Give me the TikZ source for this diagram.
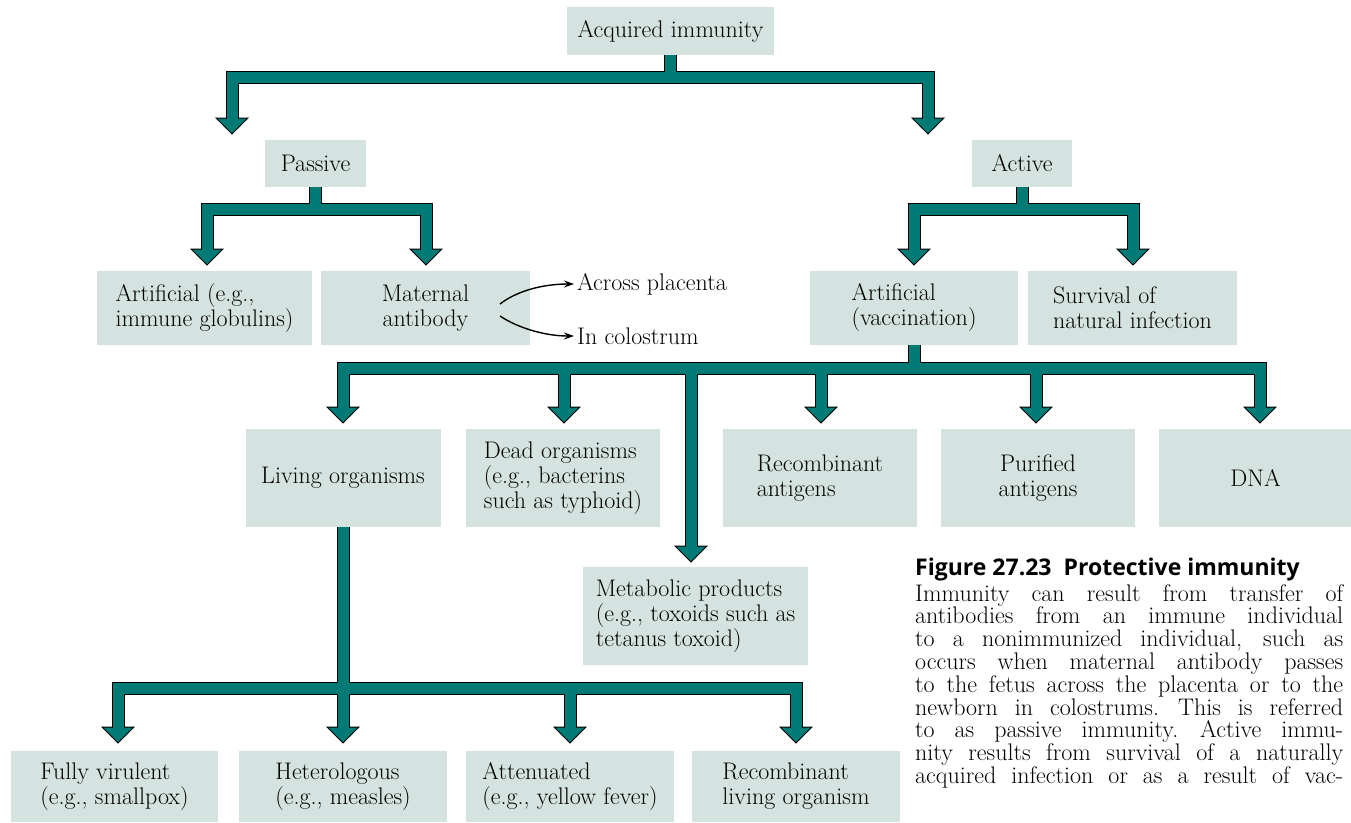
\documentclass[tikz,border=0pt]{standalone}
\usepackage{fontspec}
\newfontfamily\capsans{Open Sans}
\usetikzlibrary{arrows.meta}

\definecolor{boxfill}{RGB}{212,227,223}
\definecolor{shaft}{RGB}{0,122,116}

% one justified line of the legend
\newcommand{\jline}[1]{\hbox to 428pt{\spaceskip=7pt plus 40pt\xspaceskip=9pt plus 40pt #1}}

\begin{document}
\begin{tikzpicture}
        [x=1pt,y=-1pt,
         every node/.style={font=\fontsize{24}{25}\selectfont,inner sep=0pt},
         box/.style={fill=boxfill,align=left},
         bar/.style={draw=black,line width=1pt,double=shaft,double distance=11pt,line join=miter},
         sidearrow/.style={line width=1.4pt,-{Stealth[length=10pt,width=7pt]}},
         downhead/.pic={\filldraw[fill=shaft,draw=black,line width=1pt,line join=miter]
                        (-16,-1) -- (16,-1) -- (0,15) -- cycle;}]
        \useasboundingbox (0,0) rectangle (1351,822);

        % top of the tree
        \node[box,minimum width=207pt,minimum height=48pt] (acq) at (670.5,31) {Acquired immunity};
        \node[box,minimum width=101pt,minimum height=47pt] (pas) at (315.5,163.5) {Passive};
        \node[box,minimum width=100pt,minimum height=47pt] (act) at (1022,163.5) {Active};

        % second row
        \node[box,minimum width=215pt,minimum height=74pt] (artp) at (204.5,308) {Artificial (e.g.,\\immune globulins)};
        \node[box,align=center,minimum width=209pt,minimum height=74pt] (mat) at (425.5,308) {Maternal\\antibody};
        \node[box,minimum width=208pt,minimum height=74pt] (vac) at (914,308) {Artificial\\(vaccination)};
        \node[box,minimum width=209pt,minimum height=74pt] (surv) at (1132.5,308) {Survival of\\natural infection};

        \node[anchor=west,inner sep=3pt] (plac) at (574,284) {Across placenta};
        \node[anchor=west,inner sep=3pt] (colo) at (574,336) {In colostrum};
        \coordinate (m1) at (500,304);
        \coordinate (m2) at (500,316);
        \draw[sidearrow] (m1) .. controls (518,290) and (545,284) .. (plac.west);
        \draw[sidearrow] (m2) .. controls (518,328) and (545,336) .. (colo.west);

        % kinds of vaccine
        \node[box,align=center,minimum width=195pt,minimum height=98pt] (liv) at (343,478) {Living organisms};
        \node[box,minimum width=194pt,minimum height=98pt] (dead) at (563,478) {Dead organisms\\(e.g., bacterins\\such as typhoid)};
        \node[box,minimum width=194pt,minimum height=98pt] (rec) at (820,478) {Recombinant\\antigens};
        \node[box,align=center,minimum width=194pt,minimum height=98pt] (pur) at (1038,478) {Purified\\antigens};
        \node[box,minimum width=193pt,minimum height=98pt] (dna) at (1255.5,478) {DNA};
        \node[box,minimum width=225pt,minimum height=98pt] (met) at (695.5,616) {Metabolic products\\(e.g., toxoids such as\\tetanus toxoid)};

        % living organisms
        \node[box,minimum width=207pt,minimum height=71pt] (fully) at (114.5,786.5) {Fully virulent\\(e.g., smallpox)};
        \node[box,minimum width=208pt,minimum height=71pt] (het) at (343,786.5) {Heterologous\\(e.g., measles)};
        \node[box,minimum width=208pt,minimum height=71pt] (att) at (570,786.5) {Attenuated\\(e.g., yellow fever)};
        \node[box,minimum width=208pt,minimum height=71pt] (recl) at (796,786.5) {Recombinant\\living organism};

        % ends of the shafts, just under the heads
        \coordinate (jA) at (acq.south |- 0,77);
        \coordinate (a1) at (232,119);
        \coordinate (a2) at (928,119);
        \coordinate (jP) at (pas.south |- 0,209);
        \coordinate (p1) at (207,250);
        \coordinate (p2) at (426,250);
        \coordinate (jV) at (act.south |- 0,209);
        \coordinate (v1) at (914,250);
        \coordinate (v2) at (1133,250);
        \coordinate (jC) at (vac.south |- 0,368);
        \coordinate (c1) at (343,408);
        \coordinate (c2) at (564,408);
        \coordinate (c3) at (691,547);
        \coordinate (c4) at (821,408);
        \coordinate (c5) at (1036,408);
        \coordinate (c6) at (1260,408);
        \coordinate (jL) at (343,688);
        \coordinate (l1) at (118,728);
        \coordinate (l2) at (343,728);
        \coordinate (l3) at (570,728);
        \coordinate (l4) at (796,728);

        \foreach \e in {a1,a2,p1,p2,v1,v2,c1,c2,c3,c4,c5,c6,l1,l2,l3,l4}
            \pic at (\e) {downhead};

        \draw[bar]
            (acq.south) -- (jA)  (a1) |- (jA) -| (a2)
            (pas.south) -- (jP)  (p1) |- (jP) -| (p2)
            (act.south) -- (jV)  (v1) |- (jV) -| (v2)
            (vac.south) -- (jC)  (c1) |- (jC) -| (c6)
            (c2 |- jC) -- (c2)  (c3 |- jC) -- (c3)
            (c4 |- jC) -- (c4)  (c5 |- jC) -- (c5)
            (liv.south) -- (l2)  (l1) |- (jL) -| (l4)
            (l3 |- jL) -- (l3);

        % legend
        \node[anchor=base west,font=\capsans\bfseries\fontsize{23}{24}\selectfont] (captitle) at (915,575)
            {Figure 27.23\hspace{12pt}Protective immunity};
        \node[anchor=base west,text width=428pt,font=\fontsize{24}{22.8}\selectfont] (capbody) at (915,601)
            {\jline{Immunity can result from transfer of}
             \jline{antibodies from an immune individual}
             \jline{to a nonimmunized individual, such as}
             \jline{occurs when maternal antibody passes}
             \jline{to the fetus across the placenta or to the}
             \jline{newborn in colostrums. This is referred}
             \jline{to as passive immunity. Active immu-}
             \jline{nity results from survival of a naturally}
             \jline{acquired infection or as a result of vac-}};
\end{tikzpicture}
\end{document}
